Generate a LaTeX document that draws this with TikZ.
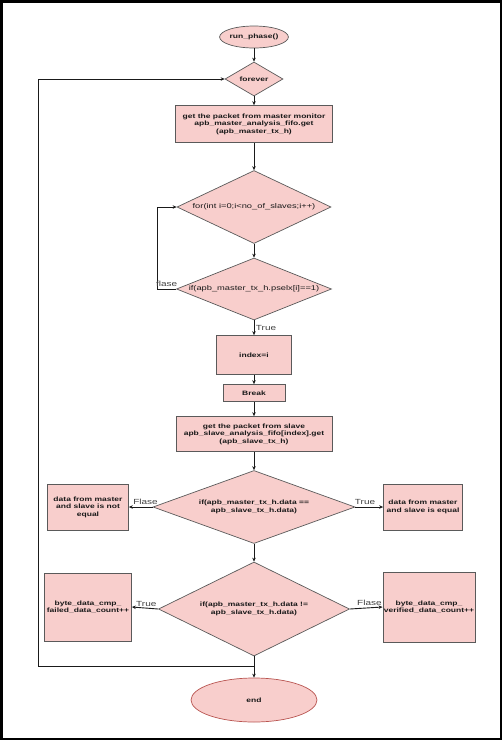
\documentclass[tikz,border=0pt]{standalone}
\usepackage{fontspec}
\newfontfamily\flowfont[FakeStretch=1.35]{Liberation Sans}
\usetikzlibrary{shapes.geometric,arrows.meta}
\definecolor{boxfill}{HTML}{F8CECC}
\definecolor{boxline}{HTML}{5A5A5A}
\definecolor{endline}{HTML}{B85450}
\definecolor{txt}{HTML}{1A1A1A}

\begin{document}
\begin{tikzpicture}[
			x=1pt,y=-1pt,
			btxt/.style={font=\flowfont\fontsize{6.3}{7.5}\selectfont\bfseries,text=txt,align=center},
			rtxt/.style={font=\flowfont\fontsize{6.9}{8.2}\selectfont,text=txt,align=center},
			box/.style={rectangle,draw=boxline,fill=boxfill,line width=0.7pt,inner sep=1pt,btxt},
			dia/.style={diamond,draw=boxline,fill=boxfill,line width=0.7pt,inner sep=0pt},
			term/.style={ellipse,draw=boxline,fill=boxfill,line width=0.7pt,inner sep=0pt,btxt},
			arr/.style={-{Stealth[length=4pt,width=3.5pt]},draw=txt,line width=0.9pt},
			lab/.style={font=\flowfont\fontsize{7.4}{8.5}\selectfont,text=black!75,inner sep=1.5pt}]
			\useasboundingbox (0,0) rectangle (502,740);
			\draw[line width=2.5pt] (1.25,1.25) rectangle (500.75,738.75);
			% main column
			\node[term,minimum width=66pt,minimum height=22pt] (run) at (254,37) {run\_phase()};
			\node[dia,minimum width=58pt,minimum height=34pt,label={[btxt]center:forever}] (frv) at (254,79) {};
			\node[box,minimum width=157pt,minimum height=37pt] (getm) at (254,124)
			{get the packet from master monitor\\apb\_master\_analysis\_fifo.get\\(apb\_master\_tx\_h)};
			\node[dia,minimum width=154pt,minimum height=73pt,
				label={[rtxt]center:{for(int i=0;i<no\_of\_slaves;i++)}}] (lp) at (254,207) {};
			\node[dia,minimum width=155pt,minimum height=62pt,
				label={[rtxt]center:{if(apb\_master\_tx\_h.pselx[i]==1)}}] (sel) at (254,289) {};
			\node[box,minimum width=75pt,minimum height=39pt] (idx) at (254,355) {index=i};
			\node[box,minimum width=62pt,minimum height=17pt] (brk) at (254,393) {Break};
			\node[box,minimum width=156pt,minimum height=35pt] (gets) at (254,434)
			{get the packet from slave\\apb\_slave\_analysis\_fifo[index].get\\(apb\_slave\_tx\_h)};
			\node[dia,minimum width=202pt,minimum height=73pt,
				label={[btxt]center:{if(apb\_master\_tx\_h.data ==\\apb\_slave\_tx\_h.data)}}] (eq) at (254,507) {};
			\node[dia,minimum width=191pt,minimum height=94pt,
				label={[btxt]center:{if(apb\_master\_tx\_h.data !=\\apb\_slave\_tx\_h.data)}}] (ne) at (254,609) {};
			\node[term,draw=endline,minimum width=126pt,minimum height=44pt] (fin) at (254,700) {end};
			% side boxes
			\node[box,minimum width=81pt,minimum height=46pt] (noteq) at (88,507)
			{data from master\\and slave is not\\equal};
			\node[box,minimum width=79pt,minimum height=46pt] (iseq) at (423,507)
			{data from master\\and slave is equal};
			\node[box,minimum width=87pt,minimum height=68pt] (fail) at (88,607)
			{byte\_data\_cmp\_\\failed\_data\_count++};
			\node[box,minimum width=90pt,minimum height=70pt] (ver) at (429,607)
			{byte\_data\_cmp\_\\verified\_data\_count++};
			\coordinate (jn) at (254,666);
			\coordinate (lpb) at (38,666);
			% connectors
			\foreach \a/\b in {run/frv,frv/getm,getm/lp,lp/sel,idx/brk,brk/gets,gets/eq,eq/ne,ne/fin}
			\draw[arr] (\a) -- (\b);
			\draw[arr] (sel) -- node[lab,right]{True} (idx);
			\draw[arr] (sel.west) -- node[lab,above]{flase} ++(-19,0) |- (lp.west);
			\draw[arr] (eq.west) -- node[lab,above,pos=0.3]{Flase} (noteq.east);
			\draw[arr] (eq.east) -- node[lab,above,pos=0.35]{True} (iseq.west);
			\draw[arr] (ne.west) -- node[lab,above,pos=0.45]{True} (fail.east);
			\draw[arr] (ne.east) -- node[lab,above,pos=0.6]{Flase} (ver.west);
			\draw[arr] (jn) -- (lpb) |- (frv.west);
		\end{tikzpicture}
\end{document}
